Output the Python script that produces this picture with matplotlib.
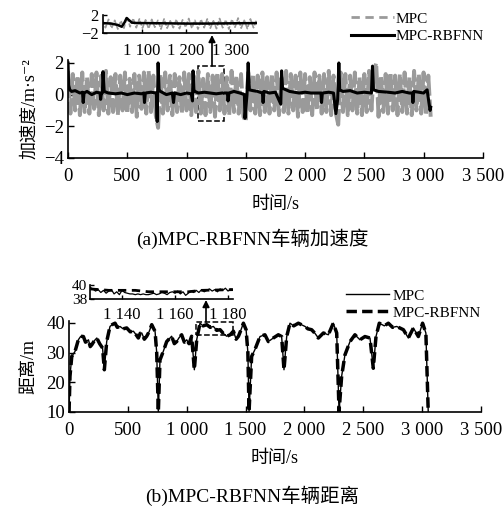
import numpy as np
import matplotlib
matplotlib.use('Agg')
import matplotlib.pyplot as plt
from matplotlib.patches import Rectangle
from matplotlib.lines import Line2D

plt.rcParams['font.family'] = ['Liberation Serif', 'Noto Sans CJK SC', 'DejaVu Sans']

# ---- (a) acceleration ----
# MPC acceleration, sampled every 20 s from 0 to 3060 s
acc_mpc_step = 20
acc_mpc = [1.5, -1.2, 1.3, -1.0, 1.2, -1.3, 1.4, -1.1, 1.1, -1.2, 1.3, -0.9, 1.4, -1.3, 1.2, -1.0, 1.5, -1.2, 1.1, -1.1,
           1.3, -1.3, 1.2, -1.0, 1.4, -1.2, 1.0, -1.1, 1.3, -1.4, 1.2, -0.9, 1.4, -1.2, 1.5, -1.1, 1.2, -1.3, -2.1, 1.3,
           -1.2, 1.4, -1.0, 1.2, -1.3, 1.3, -1.1, 1.1, -1.2, 1.4, -1.0, 1.3, -1.3, 1.2, -1.1, 1.5, -1.2, 1.0, -1.3, 1.3,
           -1.1, 1.2, -1.4, 1.4, -1.0, 1.3, -1.2, 1.1, -1.3, 1.5, -1.1, 1.2, -1.2, 1.3, -1.4, -1.7, 1.4, -1.0, 1.3, -1.2,
           1.2, -1.3, 1.4, -1.1, 1.1, -1.2, 1.3, -1.0, 1.4, -1.3, 1.2, -1.1, 1.5, -1.2, 1.3, -1.0, 1.2, -1.4, 1.4, -1.1,
           1.3, -1.2, 1.1, -1.3, 1.4, -1.0, 1.2, -1.2, 1.3, -1.1, 1.5, -1.3, 1.2, -1.2, -1.9, 1.4, -1.1, 1.3, -1.3, 1.2,
           -1.0, 1.4, -1.2, 1.1, -1.3, 1.3, -1.1, 1.5, -1.0, 1.4, 2.0, -1.4, 1.2, -1.1, 1.3, -1.2, 1.4, -1.0, 1.2, -1.3,
           1.3, -1.1, 1.4, -1.2, 1.1, -1.3, 1.5, -1.0, 1.3, -1.2, 1.4, -1.3, 1.2, -1.4]
acc_mpc_t = np.arange(len(acc_mpc)) * acc_mpc_step

acc_rbf_t = [0, 5, 15, 30, 60, 100, 122, 128, 135, 160, 200, 240, 270, 275, 282, 290, 295, 305, 340, 400, 450, 500,
             560, 620, 640, 645, 652, 700, 745, 752, 760, 768, 780, 830, 880, 890, 898, 950, 1000, 1040, 1050, 1055,
             1062, 1070, 1100, 1150, 1200, 1250, 1300, 1345, 1350, 1358, 1400, 1450, 1488, 1493, 1510, 1520, 1530,
             1560, 1600, 1640, 1646, 1653, 1700, 1750, 1795, 1802, 1810, 1870, 1950, 2000, 2050, 2100, 2134, 2139,
             2146, 2200, 2240, 2260, 2275, 2285, 2292, 2320, 2380, 2440, 2500, 2560, 2569, 2577, 2620, 2700, 2760,
             2820, 2880, 2905, 2910, 2917, 2960, 3000, 3030, 3045, 3055, 3060]
acc_rbf = [2.0, 0.6, 0.3, 0.2, 0.25, 0.1, 0.15, -0.5, 0.1, 0.2, 0.0, 0.15, 0.1, -0.3, 0.1, 0.1, 1.45, 0.2, 0.1, 0.05,
           0.1, 0.0, 0.1, 0.05, 0.1, -0.5, 0.1, 0.15, 0.1, -1.7, 2.0, 0.3, 0.2, 0.0, 0.1, -0.5, 0.1, 0.0, 0.1, 0.05,
           -0.4, 1.5, 0.3, 0.2, 0.1, 0.15, 0.1, 0.05, 0.1, 0.1, -0.4, 0.1, 0.2, 0.1, 0.0, -1.5, 0.0, 2.0, 0.3, 0.25,
           0.2, 0.1, -0.5, 0.2, 0.1, 0.15, -0.6, 1.5, 0.4, 0.2, 0.1, 0.15, 0.1, 0.1, 0.1, -0.5, 0.1, 0.15, 0.1,
           -1.2, -0.3, 2.0, 0.3, 0.2, 0.25, 0.1, 0.15, 0.1, 1.8, 0.3, 0.2, 0.15, 0.1, 0.2, 0.1, 0.1, -0.5, 0.2,
           0.15, 0.1, 0.3, -0.5, -1.0, -0.8]

# zoomed detail of (a), MPC every 7 s from 1010 to 1360 s
inset_a_step = 7
inset_a_mpc = [0.9, -0.8, 1.0, -0.9, 0.8, -1.1, 0.7, -0.9, 1.6, -0.6, 1.2, -0.8, 1.1, -0.9, 0.9, -1.0, 1.0, -0.7, 0.8, -1.1,
               1.1, -0.9, 0.7, -0.8, 1.0, -1.0, 0.9, -0.7, 1.2, -0.9, 0.8, -1.1, 1.0, -0.8, 1.1, -0.9, 0.7, -1.0, 1.2, -0.8,
               0.9, -1.1, 1.0, -0.7, 1.3, -0.9, 0.8, -1.0, 1.1, -0.8, 0.9]
inset_a_mpc_t = 1010 + np.arange(len(inset_a_mpc)) * inset_a_step
inset_a_rbf_t = [1010, 1030, 1045, 1054, 1060, 1065, 1077, 1090, 1110, 1150, 1200, 1250, 1300, 1360]
inset_a_rbf = [0.2, 0.1, -0.2, -0.6, 0.3, 1.3, 0.3, 0.2, 0.2, 0.15, 0.1, 0.1, 0.15, 0.2]

# ---- (b) distance ----
dist_t = [0, 8, 23, 51, 79, 100, 122, 140, 165, 180, 193, 215, 236, 260, 285, 300, 320, 348, 370, 391, 410, 433,
          460, 490, 520, 547, 570, 589, 605, 618, 640, 660, 680, 703, 720, 731, 745, 759,
          773, 801, 830, 872, 895, 915, 935, 957, 980, 1000, 1020, 1042, 1065, 1085, 1113, 1140, 1170, 1200, 1227,
          1255, 1284, 1310, 1340, 1370, 1397, 1420, 1440, 1460, 1482, 1505, 1520, 1530,
          1552, 1580, 1623, 1665, 1694, 1736, 1779, 1807, 1827, 1850, 1878, 1910, 1949, 2006, 2030, 2062, 2090,
          2119, 2162, 2204, 2246, 2275, 2295,
          2317, 2345, 2388, 2430, 2473, 2515, 2558, 2586, 2609, 2637, 2680, 2714, 2750, 2785, 2842, 2884, 2927,
          2969, 3005, 3033, 3053]
dist = [10, 22, 28.7, 30.4, 34.3, 35.5, 35.4, 33.5, 34.3, 32.0, 32.6, 34.0, 34.9, 33.0, 31.5, 24.2, 33.7, 38.8,
        39.5, 39.9, 38.5, 38.8, 38.0, 38.3, 37.0, 37.2, 36.0, 34.9, 36.5, 36.6, 34.5, 35.5, 37.0, 39.4, 38.0, 37.2,
        30, 10,
        27.5, 30.4, 33.7, 35.5, 33.0, 33.7, 35.0, 36.0, 33.5, 34.3, 33.0, 35.5, 24.2, 34.3, 39.9, 39.0, 39.4,
        38.5, 38.8, 37.5, 37.7, 36.5, 35.5, 36.0, 37.2, 34.5, 35.5, 37.5, 39.9, 37.7, 30, 10,
        28.7, 31.0, 35.4, 36.0, 33.7, 34.9, 36.0, 35.4, 24.2, 35.4, 39.9, 39.0, 39.9, 38.8, 38.0, 37.7, 36.5,
        34.9, 36.6, 36.0, 39.9, 36.6, 10,
        22.0, 29.2, 33.7, 36.0, 34.3, 35.4, 34.9, 24.7, 35.4, 39.9, 39.0, 39.9, 38.5, 38.8, 37.7, 34.9, 38.3,
        35.4, 39.9, 36.6, 10]

# zoomed detail of (b), MPC every 1 s from 1128 to 1182 s
inset_b_mpc = [39.6, 39.4, 39.1, 39.3, 38.9, 39.2, 38.8, 39.1, 39.3, 38.7, 39.0, 38.6, 39.2, 38.9, 38.8, 38.7, 38.7, 38.6, 38.7, 38.6,
               38.7, 38.6, 38.6, 38.7, 38.8, 38.6, 38.7, 38.9, 38.8, 38.6, 38.9, 39.0, 38.8, 39.1, 38.7, 39.0, 38.5, 38.8, 39.1, 38.9,
               39.2, 38.9, 39.3, 39.0, 39.2, 39.4, 39.1, 39.3, 39.0, 39.4, 39.2, 39.5, 39.1, 39.4, 39.3]
inset_b_mpc_t = 1128 + np.arange(len(inset_b_mpc))
inset_b_rbf_t = [1128, 1135, 1145, 1150, 1165, 1170, 1182]
inset_b_rbf = [39.4, 39.2, 39.2, 39.0, 39.0, 39.2, 39.3]

xticks = [0, 500, 1000, 1500, 2000, 2500, 3000, 3500]
xtick_labels = ['0', '500', '1 000', '1 500', '2 000', '2 500', '3 000', '3 500']
gray = '#9a9a9a'


def style(ax, size, pad):
    ax.spines['top'].set_visible(False)
    ax.spines['right'].set_visible(False)
    ax.spines['left'].set_linewidth(1.2)
    ax.spines['bottom'].set_linewidth(1.2)
    ax.tick_params(direction='in', length=4, width=1, labelsize=size)
    ax.tick_params(axis='x', pad=pad)
    ax.tick_params(axis='y', pad=3)


fig = plt.figure(figsize=(5.04, 5.11), dpi=100)

# (a)
ax1 = fig.add_axes([0.135, 0.691, 0.823, 0.192])
ax1.plot(acc_mpc_t, acc_mpc, color=gray, lw=2.8, ls='--', dashes=(7, 1))
l_rbf, = ax1.plot(acc_rbf_t, acc_rbf, color='k', lw=2.2, label='MPC-RBFNN')
ax1.set_xlim(0, 3500)
ax1.set_ylim(-4, 2.2)
ax1.set_xticks(xticks)
ax1.set_xticklabels(xtick_labels)
ax1.set_yticks([-4, -2, 0, 2])
style(ax1, 13.5, 7)
ax1.set_xlabel('时间/s', fontsize=13, labelpad=8)
ax1.set_ylabel('加速度/m·s⁻²', fontsize=13, labelpad=4)
ax1.add_patch(Rectangle((1100, -1.67), 215, 3.47, fill=False, ls='--', lw=1.1, color='k'))

ins1 = fig.add_axes([0.204, 0.935, 0.306, 0.036])
ins1.plot(inset_a_mpc_t, inset_a_mpc, color=gray, lw=1.2, ls='--', dashes=(3, 1))
ins1.plot(inset_a_rbf_t, inset_a_rbf, color='k', lw=1.8)
ins1.set_xlim(1011, 1361)
ins1.set_ylim(-2, 2)
ins1.set_xticks([1100, 1200, 1300])
ins1.set_xticklabels(['1 100', '1 200', '1 300'])
ins1.set_yticks([-2, 2])
style(ins1, 12, 7)
ins1.tick_params(length=3)

l_mpc = Line2D([], [], color=gray, lw=2.0, ls='--', dashes=(3, 2), label='MPC')
fig.legend(handles=[l_mpc, l_rbf], loc='upper left', bbox_to_anchor=(0.685, 1 - 6 / 511), frameon=False,
           fontsize=11, handlelength=2.8, handletextpad=0.1, labelspacing=0.25, borderaxespad=0)
ax1.annotate('', xy=(212 / 504, 1 - 35 / 511), xycoords='figure fraction',
             xytext=(212 / 504, 1 - 66 / 511), textcoords='figure fraction',
             arrowprops=dict(arrowstyle='-|>', color='k', lw=1.2, mutation_scale=10, shrinkA=0, shrinkB=0))
fig.text(0.5, 1 - 239 / 511, '(a)MPC-RBFNN车辆加速度', ha='center', va='center', fontsize=14)

# (b)
ax2 = fig.add_axes([0.137, 0.194, 0.817, 0.177])
m_mpc, = ax2.plot(dist_t, dist, color='k', lw=1.0, label='MPC')
m_rbf, = ax2.plot(dist_t, dist, color='k', lw=2.5, ls='--', dashes=(3, 1.5), label='MPC-RBFNN')
ax2.set_xlim(0, 3500)
ax2.set_ylim(10, 40.5)
ax2.set_xticks(xticks)
ax2.set_xticklabels(xtick_labels)
ax2.set_yticks([10, 20, 30, 40])
style(ax2, 13.5, 7)
ax2.set_xlabel('时间/s', fontsize=13, labelpad=8)
ax2.set_ylabel('距离/m', fontsize=13, labelpad=6)
ax2.add_patch(Rectangle((1080, 36), 310, 4.3, fill=False, ls='--', lw=1.1, color='k', clip_on=False))

ins2 = fig.add_axes([0.179, 0.415, 0.284, 0.028])
ins2.plot(inset_b_mpc_t, inset_b_mpc, color='k', lw=0.9)
ins2.plot(inset_b_rbf_t, inset_b_rbf, color='k', lw=2.0, ls='--', dashes=(3, 2))
ins2.set_xlim(1128, 1182)
ins2.set_ylim(38, 40)
ins2.set_xticks([1140, 1160, 1180])
ins2.set_xticklabels(['1 140', '1 160', '1 180'])
ins2.set_yticks([38, 40])
style(ins2, 12, 6)
ins2.tick_params(axis='y', labelsize=11, pad=2)
ins2.tick_params(length=3)

fig.legend(handles=[m_mpc, m_rbf], loc='upper left', bbox_to_anchor=(0.675, 1 - 283 / 511), frameon=False,
           fontsize=11, handlelength=2.8, handletextpad=0.2, labelspacing=0.2, borderaxespad=0)
ax2.annotate('', xy=(206 / 504, 1 - 300 / 511), xycoords='figure fraction',
             xytext=(206 / 504, 1 - 322 / 511), textcoords='figure fraction',
             arrowprops=dict(arrowstyle='-|>', color='k', lw=1.2, mutation_scale=10, shrinkA=0, shrinkB=0))
fig.text(0.5, 1 - 496 / 511, '(b)MPC-RBFNN车辆距离', ha='center', va='center', fontsize=14)

fig.savefig('out.png', dpi=100)
